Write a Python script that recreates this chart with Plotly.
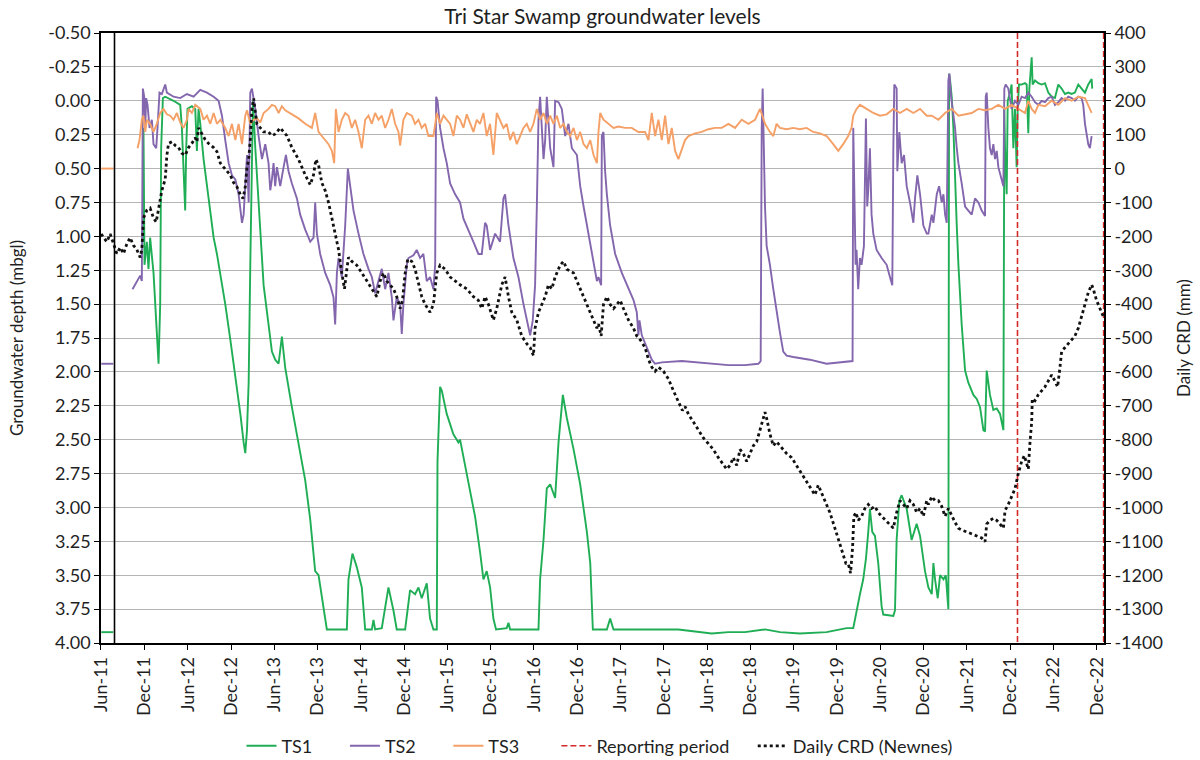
import plotly.graph_objects as go
from datetime import datetime

# ---------------- data (time as decimal year) ----------------
ts1_points = [
    (2011.417, 3.92), (2011.555, 3.92), (None, None),
    (2011.898, 1.04), (2011.905, 0.20), (2011.917, 1.21), (2011.944, 1.04), (2011.963, 1.24),
    (2011.982, 1.01), (2012.021, 1.27), (2012.059, 1.73), (2012.079, 1.94), (2012.098, 1.50),
    (2012.109, 0.35), (2012.129, -0.02), (2012.156, -0.03), (2012.252, 0.00), (2012.329, 0.03),
    (2012.348, 0.20), (2012.367, 0.49), (2012.386, 0.81), (2012.398, 0.35), (2012.413, 0.06),
    (2012.463, 0.04), (2012.502, 0.06), (2012.521, 0.37), (2012.540, 0.06), (2012.560, 0.17),
    (2012.598, 0.43), (2012.656, 0.72), (2012.714, 1.01), (2012.752, 1.13), (2012.791, 1.27),
    (2012.848, 1.50), (2012.906, 1.76), (2012.964, 2.02), (2013.022, 2.31), (2013.060, 2.52),
    (2013.079, 2.60), (2013.099, 2.43), (2013.118, 2.08), (2013.137, 1.21), (2013.156, 0.35),
    (2013.168, 0.00), (2013.195, 0.35), (2013.233, 0.78), (2013.272, 1.21), (2013.291, 1.36),
    (2013.330, 1.56), (2013.387, 1.85), (2013.425, 1.91), (2013.464, 1.94), (2013.502, 1.74),
    (2013.541, 1.97), (2013.618, 2.26), (2013.695, 2.54), (2013.772, 2.80), (2013.830, 3.09),
    (2013.887, 3.47), (2013.926, 3.50), (2013.964, 3.67), (2014.022, 3.90), (2014.253, 3.90),
    (2014.272, 3.53), (2014.318, 3.34), (2014.368, 3.44), (2014.426, 3.59), (2014.465, 3.90),
    (2014.542, 3.90), (2014.561, 3.83), (2014.580, 3.90), (2014.657, 3.89), (2014.734, 3.59),
    (2014.792, 3.76), (2014.830, 3.90), (2014.927, 3.90), (2014.984, 3.61), (2015.042, 3.64),
    (2015.081, 3.59), (2015.119, 3.67), (2015.177, 3.56), (2015.215, 3.82), (2015.254, 3.90),
    (2015.293, 3.90), (2015.301, 2.66), (2015.331, 2.11), (2015.351, 2.14), (2015.408, 2.31),
    (2015.485, 2.46), (2015.543, 2.52), (2015.562, 2.50), (2015.601, 2.63), (2015.678, 2.86),
    (2015.736, 3.07), (2015.793, 3.33), (2015.832, 3.53), (2015.870, 3.47), (2015.909, 3.59),
    (2015.947, 3.82), (2015.978, 3.90), (2016.101, 3.89), (2016.121, 3.85), (2016.140, 3.90),
    (2016.467, 3.90), (2016.486, 3.53), (2016.525, 3.24), (2016.563, 2.86), (2016.602, 2.83),
    (2016.659, 2.93), (2016.698, 2.52), (2016.748, 2.17), (2016.794, 2.34), (2016.871, 2.57),
    (2016.948, 2.83), (2017.025, 3.18), (2017.064, 3.41), (2017.094, 3.90), (2017.256, 3.90),
    (2017.294, 3.82), (2017.333, 3.90), (2017.698, 3.90), (2018.083, 3.90), (2018.468, 3.93),
    (2018.661, 3.92), (2018.853, 3.92), (2019.084, 3.90), (2019.257, 3.92), (2019.488, 3.93),
    (2019.796, 3.92), (2020.027, 3.89), (2020.104, 3.89), (2020.142, 3.76), (2020.181, 3.64),
    (2020.219, 3.53), (2020.250, 3.38), (2020.277, 3.18), (2020.296, 3.01), (2020.323, 3.18),
    (2020.354, 3.21), (2020.392, 3.41), (2020.431, 3.73), (2020.450, 3.79), (2020.566, 3.80),
    (2020.585, 3.76), (2020.604, 3.24), (2020.635, 2.95), (2020.662, 2.91), (2020.720, 3.01),
    (2020.777, 3.24), (2020.835, 3.12), (2020.874, 3.21), (2020.931, 3.47), (2020.970, 3.59),
    (2021.009, 3.64), (2021.028, 3.41), (2021.047, 3.53), (2021.078, 3.67), (2021.105, 3.50),
    (2021.144, 3.53), (2021.171, 3.50), (2021.201, 3.75), (2021.209, -0.20), (2021.221, -0.15),
    (2021.240, -0.03), (2021.259, 0.20), (2021.298, 0.92), (2021.317, 1.21), (2021.355, 1.65),
    (2021.394, 1.99), (2021.432, 2.08), (2021.490, 2.17), (2021.529, 2.20), (2021.567, 2.26),
    (2021.606, 2.43), (2021.625, 2.44), (2021.644, 1.99), (2021.682, 2.17), (2021.721, 2.28),
    (2021.760, 2.27), (2021.798, 2.31), (2021.837, 2.43), (2021.848, 0.06), (2021.856, 0.35),
    (2021.875, 0.69), (2021.887, 0.00), (2021.913, -0.06), (2021.932, -0.12), (2021.952, 0.35),
    (2021.971, 0.06), (2021.990, 0.49), (2022.002, 0.06), (2022.017, -0.12), (2022.048, -0.12),
    (2022.087, -0.13), (2022.106, -0.12), (2022.125, 0.24), (2022.137, -0.09), (2022.164, -0.32),
    (2022.175, -0.12), (2022.202, -0.15), (2022.241, -0.13), (2022.279, -0.12), (2022.318, -0.13),
    (2022.356, -0.06), (2022.395, -0.03), (2022.433, -0.02), (2022.472, -0.12), (2022.510, -0.09),
    (2022.549, -0.05), (2022.587, -0.06), (2022.626, -0.05), (2022.664, -0.06), (2022.703, -0.12),
    (2022.741, -0.09), (2022.780, -0.06), (2022.818, -0.12), (2022.857, -0.16), (2022.864, -0.09),
]

ts2_points = [
    (2011.417, 1.94), (2011.555, 1.94), (None, None),
    (2011.778, 1.39), (2011.828, 1.33), (2011.867, 1.29), (2011.886, 1.33), (2011.898, -0.09),
    (2011.913, -0.03), (2011.925, 0.20), (2011.936, -0.02), (2011.952, 0.03), (2011.975, 0.20),
    (2012.002, 0.14), (2012.021, 0.32), (2012.052, 0.35), (2012.067, 0.20), (2012.090, -0.06),
    (2012.117, -0.05), (2012.156, -0.12), (2012.175, -0.06), (2012.252, -0.03), (2012.329, -0.02),
    (2012.406, -0.05), (2012.483, -0.03), (2012.560, -0.08), (2012.637, -0.06), (2012.714, -0.03),
    (2012.771, 0.00), (2012.810, 0.11), (2012.848, 0.29), (2012.887, 0.46), (2012.925, 0.55),
    (2012.964, 0.58), (2013.002, 0.69), (2013.041, 0.90), (2013.060, 0.84), (2013.079, 0.58),
    (2013.099, 0.40), (2013.118, 0.75), (2013.137, -0.06), (2013.156, -0.09), (2013.195, 0.06),
    (2013.233, 0.26), (2013.272, 0.43), (2013.310, 0.32), (2013.348, 0.46), (2013.368, 0.66),
    (2013.387, 0.58), (2013.406, 0.46), (2013.425, 0.63), (2013.445, 0.49), (2013.483, 0.63),
    (2013.522, 0.49), (2013.549, 0.40), (2013.579, 0.52), (2013.618, 0.61), (2013.676, 0.72),
    (2013.714, 0.84), (2013.772, 0.95), (2013.830, 1.04), (2013.868, 1.01), (2013.887, 0.75),
    (2013.907, 0.98), (2013.945, 1.13), (2014.003, 1.27), (2014.061, 1.36), (2014.099, 1.45),
    (2014.118, 1.65), (2014.138, 1.27), (2014.157, 1.16), (2014.195, 1.30), (2014.234, 0.92),
    (2014.265, 0.50), (2014.291, 0.63), (2014.330, 0.81), (2014.388, 0.98), (2014.445, 1.13),
    (2014.503, 1.24), (2014.542, 1.30), (2014.580, 1.42), (2014.619, 1.33), (2014.657, 1.24),
    (2014.696, 1.39), (2014.734, 1.27), (2014.773, 1.45), (2014.792, 1.62), (2014.830, 1.45),
    (2014.869, 1.50), (2014.888, 1.72), (2014.907, 1.50), (2014.946, 1.21), (2014.965, 1.16),
    (2015.023, 1.14), (2015.061, 1.10), (2015.100, 1.16), (2015.138, 1.13), (2015.177, 1.33),
    (2015.215, 1.30), (2015.254, 1.39), (2015.274, 1.21), (2015.285, -0.03), (2015.301, 0.00),
    (2015.331, 0.20), (2015.370, 0.35), (2015.408, 0.46), (2015.447, 0.61), (2015.505, 0.69),
    (2015.562, 0.75), (2015.601, 0.87), (2015.659, 0.95), (2015.716, 1.04), (2015.774, 1.13),
    (2015.813, 1.13), (2015.851, 0.90), (2015.870, 0.92), (2015.909, 1.10), (2015.967, 0.98),
    (2016.024, 1.04), (2016.063, 0.72), (2016.082, 0.69), (2016.121, 0.92), (2016.178, 1.16),
    (2016.236, 1.30), (2016.294, 1.50), (2016.332, 1.62), (2016.371, 1.73), (2016.401, 1.62),
    (2016.428, 1.36), (2016.448, 0.78), (2016.467, 0.14), (2016.486, -0.03), (2016.525, 0.43),
    (2016.544, 0.29), (2016.563, -0.03), (2016.602, 0.35), (2016.640, 0.49), (2016.659, 0.00),
    (2016.698, 0.01), (2016.736, 0.06), (2016.775, 0.26), (2016.813, 0.17), (2016.852, 0.35),
    (2016.910, 0.40), (2016.948, 0.63), (2016.987, 0.78), (2017.025, 0.92), (2017.064, 1.07),
    (2017.102, 1.21), (2017.141, 1.33), (2017.159, 1.30), (2017.190, 1.36), (2017.198, 0.26),
    (2017.217, 0.23), (2017.236, 0.52), (2017.256, 0.69), (2017.294, 0.92), (2017.352, 1.13),
    (2017.429, 1.27), (2017.506, 1.39), (2017.564, 1.47), (2017.602, 1.56), (2017.621, 1.73),
    (2017.633, 1.62), (2017.660, 1.73), (2017.718, 1.82), (2017.775, 1.91), (2017.814, 1.94),
    (2017.891, 1.93), (2018.122, 1.92), (2018.276, 1.93), (2018.468, 1.94), (2018.661, 1.95),
    (2018.853, 1.95), (2019.007, 1.94), (2019.034, 1.92), (2019.046, 0.20), (2019.057, -0.09),
    (2019.076, 0.49), (2019.084, 0.78), (2019.103, 1.07), (2019.141, 1.21), (2019.180, 1.39),
    (2019.218, 1.56), (2019.238, 1.62), (2019.257, 1.71), (2019.295, 1.85), (2019.334, 1.88),
    (2019.411, 1.89), (2019.603, 1.91), (2019.796, 1.94), (2019.988, 1.93), (2020.096, 1.92),
    (2020.104, 0.20), (2020.115, 0.72), (2020.131, 1.21), (2020.142, 1.10), (2020.161, 1.39),
    (2020.181, 1.16), (2020.200, 1.21), (2020.227, 1.07), (2020.250, 0.13), (2020.265, 0.78),
    (2020.277, 0.66), (2020.296, 0.35), (2020.315, 0.84), (2020.335, 0.98), (2020.373, 1.10),
    (2020.431, 1.16), (2020.489, 1.21), (2020.527, 1.30), (2020.554, 1.36), (2020.566, 0.35),
    (2020.577, -0.12), (2020.604, -0.09), (2020.612, 0.52), (2020.635, 0.23), (2020.662, 0.46),
    (2020.689, 0.40), (2020.720, 0.63), (2020.758, 0.75), (2020.797, 0.90), (2020.816, 0.72),
    (2020.843, 0.55), (2020.874, 0.69), (2020.912, 0.92), (2020.951, 0.98), (2020.970, 0.98),
    (2021.009, 0.84), (2021.028, 0.90), (2021.067, 0.69), (2021.094, 0.63), (2021.124, 0.75),
    (2021.144, 0.69), (2021.163, 0.84), (2021.182, 0.90), (2021.201, -0.15), (2021.213, -0.20),
    (2021.232, -0.03), (2021.259, 0.09), (2021.278, 0.20), (2021.298, 0.35), (2021.317, 0.46),
    (2021.355, 0.61), (2021.375, 0.72), (2021.394, 0.78), (2021.432, 0.81), (2021.471, 0.84),
    (2021.509, 0.72), (2021.548, 0.75), (2021.586, 0.81), (2021.625, 0.85), (2021.633, -0.03),
    (2021.644, -0.06), (2021.663, 0.20), (2021.682, 0.35), (2021.702, 0.40), (2021.721, 0.32),
    (2021.740, 0.43), (2021.760, 0.37), (2021.779, 0.49), (2021.817, 0.58), (2021.837, 0.63),
    (2021.848, -0.09), (2021.863, -0.12), (2021.894, -0.09), (2021.932, 0.06), (2021.971, 0.00),
    (2022.010, 0.03), (2022.048, -0.03), (2022.087, -0.02), (2022.125, -0.06), (2022.164, -0.03),
    (2022.202, 0.01), (2022.241, 0.03), (2022.279, 0.00), (2022.318, 0.01), (2022.356, -0.02),
    (2022.395, -0.03), (2022.433, 0.03), (2022.472, 0.01), (2022.510, -0.02), (2022.549, 0.00),
    (2022.587, -0.03), (2022.626, -0.02), (2022.664, 0.00), (2022.703, -0.03), (2022.741, -0.02),
    (2022.760, 0.03), (2022.780, 0.17), (2022.799, 0.26), (2022.818, 0.32), (2022.837, 0.35),
    (2022.857, 0.26),
]

ts3_points = [
    (2011.417, 0.50), (2011.555, 0.50), (None, None),
    (2011.836, 0.35), (2011.859, 0.29), (2011.886, 0.14), (2011.905, 0.11), (2011.925, 0.23),
    (2011.944, 0.14), (2011.982, 0.17), (2012.021, 0.23), (2012.059, 0.17), (2012.098, 0.09),
    (2012.136, 0.06), (2012.175, 0.10), (2012.213, 0.11), (2012.252, 0.14), (2012.290, 0.09),
    (2012.329, 0.16), (2012.367, 0.20), (2012.406, 0.14), (2012.425, 0.06), (2012.463, 0.09),
    (2012.502, 0.03), (2012.560, 0.06), (2012.598, 0.14), (2012.637, 0.11), (2012.675, 0.17),
    (2012.714, 0.09), (2012.752, 0.17), (2012.791, 0.14), (2012.848, 0.20), (2012.887, 0.26),
    (2012.925, 0.17), (2012.964, 0.29), (2013.002, 0.17), (2013.041, 0.32), (2013.079, 0.11),
    (2013.099, 0.07), (2013.137, 0.17), (2013.176, 0.14), (2013.214, 0.13), (2013.253, 0.16),
    (2013.291, 0.09), (2013.348, 0.06), (2013.387, 0.03), (2013.425, 0.04), (2013.464, 0.09),
    (2013.502, 0.04), (2013.541, 0.07), (2013.618, 0.10), (2013.695, 0.13), (2013.772, 0.17),
    (2013.849, 0.20), (2013.887, 0.09), (2013.926, 0.23), (2013.964, 0.26), (2014.003, 0.29),
    (2014.041, 0.32), (2014.080, 0.37), (2014.107, 0.46), (2014.126, 0.06), (2014.157, 0.23),
    (2014.195, 0.14), (2014.234, 0.09), (2014.272, 0.11), (2014.311, 0.20), (2014.349, 0.14),
    (2014.388, 0.23), (2014.426, 0.35), (2014.465, 0.14), (2014.503, 0.11), (2014.542, 0.17),
    (2014.580, 0.09), (2014.619, 0.14), (2014.657, 0.11), (2014.696, 0.20), (2014.734, 0.14),
    (2014.773, 0.06), (2014.811, 0.17), (2014.850, 0.23), (2014.869, 0.33), (2014.907, 0.14),
    (2014.946, 0.09), (2015.004, 0.11), (2015.042, 0.17), (2015.081, 0.14), (2015.119, 0.20),
    (2015.158, 0.17), (2015.196, 0.26), (2015.254, 0.26), (2015.293, 0.09), (2015.331, 0.17),
    (2015.370, 0.11), (2015.447, 0.17), (2015.485, 0.26), (2015.524, 0.11), (2015.562, 0.14),
    (2015.601, 0.20), (2015.639, 0.10), (2015.678, 0.17), (2015.716, 0.23), (2015.755, 0.14),
    (2015.793, 0.17), (2015.832, 0.09), (2015.870, 0.26), (2015.909, 0.17), (2015.947, 0.40),
    (2015.986, 0.09), (2016.024, 0.14), (2016.063, 0.20), (2016.101, 0.17), (2016.140, 0.29),
    (2016.178, 0.23), (2016.217, 0.32), (2016.255, 0.26), (2016.294, 0.20), (2016.332, 0.17),
    (2016.371, 0.23), (2016.409, 0.17), (2016.448, 0.06), (2016.486, 0.14), (2016.525, 0.09),
    (2016.563, 0.17), (2016.602, 0.11), (2016.640, 0.17), (2016.679, 0.11), (2016.717, 0.20),
    (2016.756, 0.17), (2016.794, 0.23), (2016.833, 0.26), (2016.871, 0.20), (2016.910, 0.29),
    (2016.948, 0.23), (2016.987, 0.32), (2017.025, 0.35), (2017.064, 0.29), (2017.102, 0.40),
    (2017.141, 0.46), (2017.159, 0.23), (2017.179, 0.09), (2017.217, 0.14), (2017.275, 0.17),
    (2017.333, 0.20), (2017.390, 0.19), (2017.467, 0.20), (2017.544, 0.20), (2017.621, 0.23),
    (2017.698, 0.23), (2017.737, 0.29), (2017.775, 0.09), (2017.814, 0.26), (2017.852, 0.14),
    (2017.891, 0.29), (2017.929, 0.11), (2017.968, 0.32), (2018.006, 0.20), (2018.045, 0.37),
    (2018.083, 0.43), (2018.122, 0.35), (2018.160, 0.29), (2018.199, 0.26), (2018.276, 0.24),
    (2018.353, 0.23), (2018.430, 0.21), (2018.507, 0.20), (2018.584, 0.20), (2018.661, 0.17),
    (2018.738, 0.20), (2018.815, 0.14), (2018.892, 0.17), (2018.969, 0.14), (2019.026, 0.06),
    (2019.084, 0.17), (2019.141, 0.23), (2019.180, 0.26), (2019.218, 0.17), (2019.257, 0.20),
    (2019.334, 0.21), (2019.411, 0.20), (2019.488, 0.21), (2019.565, 0.20), (2019.642, 0.23),
    (2019.719, 0.24), (2019.796, 0.26), (2019.873, 0.32), (2019.931, 0.37), (2019.988, 0.32),
    (2020.046, 0.26), (2020.084, 0.20), (2020.104, 0.11), (2020.142, 0.06), (2020.181, 0.03),
    (2020.258, 0.06), (2020.335, 0.09), (2020.412, 0.11), (2020.489, 0.10), (2020.566, 0.06),
    (2020.643, 0.09), (2020.720, 0.06), (2020.797, 0.09), (2020.874, 0.06), (2020.951, 0.11),
    (2021.009, 0.11), (2021.086, 0.14), (2021.163, 0.09), (2021.240, 0.06), (2021.317, 0.11),
    (2021.394, 0.10), (2021.471, 0.09), (2021.548, 0.06), (2021.625, 0.07), (2021.702, 0.06),
    (2021.779, 0.03), (2021.856, 0.06), (2021.932, 0.03), (2022.010, 0.06), (2022.087, 0.09),
    (2022.125, 0.00), (2022.164, 0.06), (2022.202, 0.09), (2022.241, 0.03), (2022.318, 0.04),
    (2022.395, 0.00), (2022.472, 0.03), (2022.549, -0.02), (2022.626, 0.00), (2022.703, -0.03),
    (2022.780, -0.02), (2022.818, 0.03), (2022.857, 0.09),
]

crd_points = [
    (2011.417, -193), (2011.443, -204), (2011.482, -216), (2011.520, -193), (2011.559, -222),
    (2011.597, -251), (2011.636, -233), (2011.674, -251), (2011.713, -222), (2011.751, -204),
    (2011.790, -227), (2011.828, -239), (2011.867, -262), (2011.886, -239), (2011.905, -146),
    (2011.944, -123), (2011.982, -117), (2012.021, -146), (2012.052, -158), (2012.079, -123),
    (2012.117, -65), (2012.156, -31), (2012.175, 39), (2012.194, 74), (2012.233, 79),
    (2012.271, 68), (2012.310, 62), (2012.348, 45), (2012.386, 39), (2012.425, 62),
    (2012.463, 74), (2012.502, 91), (2012.521, 79), (2012.540, 120), (2012.579, 102),
    (2012.617, 85), (2012.656, 74), (2012.714, 62), (2012.752, 50), (2012.791, 16),
    (2012.829, 4), (2012.868, -7), (2012.906, -19), (2012.945, -42), (2012.983, -54),
    (2013.022, -77), (2013.053, -88), (2013.079, -54), (2013.099, 4), (2013.118, 27),
    (2013.137, 85), (2013.156, 178), (2013.176, 207), (2013.195, 166), (2013.214, 131),
    (2013.253, 120), (2013.291, 108), (2013.348, 108), (2013.387, 97), (2013.425, 102),
    (2013.483, 120), (2013.522, 108), (2013.560, 97), (2013.618, 62), (2013.695, 27),
    (2013.772, -19), (2013.830, -48), (2013.868, -19), (2013.895, 27), (2013.926, 10),
    (2013.964, -42), (2014.003, -65), (2014.041, -100), (2014.080, -146), (2014.118, -193),
    (2014.157, -239), (2014.195, -308), (2014.226, -355), (2014.253, -297), (2014.272, -262),
    (2014.311, -274), (2014.368, -285), (2014.426, -308), (2014.484, -332), (2014.542, -355),
    (2014.600, -378), (2014.638, -332), (2014.676, -308), (2014.715, -332), (2014.753, -343),
    (2014.792, -355), (2014.830, -378), (2014.869, -413), (2014.896, -389), (2014.927, -308),
    (2014.957, -268), (2015.004, -274), (2015.042, -297), (2015.081, -343), (2015.119, -378),
    (2015.158, -401), (2015.215, -424), (2015.254, -401), (2015.293, -308), (2015.331, -285),
    (2015.389, -297), (2015.447, -320), (2015.505, -332), (2015.562, -343), (2015.639, -355),
    (2015.716, -378), (2015.774, -389), (2015.813, -413), (2015.851, -378), (2015.890, -401),
    (2015.947, -447), (2015.986, -413), (2016.044, -343), (2016.082, -320), (2016.121, -378),
    (2016.159, -424), (2016.217, -447), (2016.274, -494), (2016.332, -517), (2016.371, -528),
    (2016.409, -552), (2016.428, -471), (2016.467, -424), (2016.505, -401), (2016.544, -378),
    (2016.582, -343), (2016.621, -355), (2016.659, -320), (2016.717, -285), (2016.756, -274),
    (2016.794, -297), (2016.833, -303), (2016.871, -308), (2016.910, -332), (2016.948, -355),
    (2016.987, -378), (2017.025, -401), (2017.064, -424), (2017.102, -447), (2017.141, -471),
    (2017.159, -459), (2017.190, -494), (2017.217, -401), (2017.256, -378), (2017.294, -401),
    (2017.333, -413), (2017.371, -401), (2017.410, -389), (2017.448, -413), (2017.506, -447),
    (2017.564, -471), (2017.602, -494), (2017.641, -505), (2017.698, -528), (2017.737, -563),
    (2017.775, -586), (2017.814, -598), (2017.852, -586), (2017.910, -598), (2017.968, -621),
    (2018.026, -656), (2018.083, -690), (2018.129, -714), (2018.160, -702), (2018.199, -725),
    (2018.257, -748), (2018.314, -772), (2018.372, -795), (2018.430, -812), (2018.487, -829),
    (2018.545, -853), (2018.603, -876), (2018.641, -887), (2018.680, -876), (2018.718, -853),
    (2018.757, -876), (2018.795, -829), (2018.834, -841), (2018.872, -864), (2018.911, -841),
    (2018.949, -818), (2018.988, -806), (2019.026, -772), (2019.065, -731), (2019.084, -719),
    (2019.103, -737), (2019.141, -783), (2019.180, -818), (2019.218, -806), (2019.257, -818),
    (2019.295, -829), (2019.334, -841), (2019.392, -853), (2019.449, -876), (2019.507, -899),
    (2019.565, -922), (2019.623, -945), (2019.661, -963), (2019.700, -934), (2019.738, -957),
    (2019.777, -980), (2019.834, -1015), (2019.892, -1061), (2019.950, -1107), (2019.988, -1142),
    (2020.019, -1165), (2020.046, -1165), (2020.073, -1194), (2020.096, -1119), (2020.111, -1026),
    (2020.135, -1015), (2020.161, -1038), (2020.200, -1026), (2020.238, -1003), (2020.277, -991),
    (2020.315, -1003), (2020.354, -997), (2020.392, -1015), (2020.431, -1026), (2020.481, -1038),
    (2020.527, -1049), (2020.566, -1061), (2020.604, -1015), (2020.643, -980), (2020.681, -991),
    (2020.720, -1003), (2020.758, -980), (2020.797, -991), (2020.835, -1015), (2020.874, -1003),
    (2020.912, -1026), (2020.951, -980), (2020.970, -991), (2021.009, -968), (2021.047, -980),
    (2021.086, -980), (2021.124, -997), (2021.163, -1026), (2021.201, -1003), (2021.240, -1026),
    (2021.278, -1044), (2021.317, -1061), (2021.355, -1067), (2021.413, -1072), (2021.471, -1078),
    (2021.529, -1084), (2021.586, -1090), (2021.625, -1101), (2021.644, -1049), (2021.682, -1038),
    (2021.721, -1032), (2021.760, -1038), (2021.798, -1049), (2021.837, -1061), (2021.856, -1009),
    (2021.894, -991), (2021.932, -968), (2021.971, -945), (2022.010, -899), (2022.048, -864),
    (2022.079, -847), (2022.106, -876), (2022.125, -887), (2022.145, -806), (2022.164, -748),
    (2022.171, -679), (2022.202, -685), (2022.241, -667), (2022.279, -656), (2022.318, -644),
    (2022.356, -627), (2022.395, -609), (2022.433, -627), (2022.464, -644), (2022.491, -586),
    (2022.510, -540), (2022.549, -528), (2022.587, -517), (2022.626, -505), (2022.664, -494),
    (2022.703, -471), (2022.741, -436), (2022.772, -401), (2022.818, -366), (2022.857, -343),
    (2022.876, -355), (2022.914, -389), (2022.953, -413), (2022.991, -436),
]

reporting_period = [2022.0, 2022.996]     # start / end of reporting period (decimal year)
logger_break = 2011.57                    # black vertical divider near start of record
x_range = [2011.414, 2023.0]
depth_ticks = [-0.5 + 0.25 * i for i in range(19)]
crd_ticks = list(range(-1400, 401, 100))
month_ticks = [(y, m) for y in range(2011, 2023) for m in (6, 12)]
month_labels = [("Jun-" if m == 6 else "Dec-") + str(y)[2:] for y, m in month_ticks]


# ---------------- helpers ----------------
def to_date(t):
    if t is None:
        return None
    y = int(t)
    start, end = datetime(y, 1, 1), datetime(y + 1, 1, 1)
    return start + (end - start) * (t - y)


def unzip(points):
    return [to_date(p[0]) for p in points], [p[1] for p in points]


def pad(label, n):
    # trailing non-breaking spaces widen the legend entry (Excel-like spacing)
    return label + "\u00a0" * n


FONT = "Lato, 'Open Sans', sans-serif"
TXT = "#1f1f1f"

fig = go.Figure()

for name, pts, col, n in [("TS1", ts1_points, "#1fae55", 6),
                          ("TS2", ts2_points, "#8366ad", 6),
                          ("TS3", ts3_points, "#f5a066", 7)]:
    xs, ys = unzip(pts)
    fig.add_trace(go.Scatter(x=xs, y=ys, name=pad(name, n), mode="lines",
                             line=dict(color=col, width=1.9), connectgaps=False))

rp0, rp1 = to_date(reporting_period[0]), to_date(reporting_period[1])
fig.add_trace(go.Scatter(x=[rp0, rp0, None, rp1, rp1], y=[-0.5, 4.0, None, -0.5, 4.0],
                         name=pad("Reporting period", 4), mode="lines",
                         line=dict(color="#d42a2a", width=1.6, dash="6px,3px")))

cx, cy = unzip(crd_points)
fig.add_trace(go.Scatter(x=cx, y=cy, name="Daily CRD (Newnes)", mode="lines", yaxis="y2",
                         line=dict(color="#111111", width=2.8, dash="dot")))

fig.add_shape(type="line", xref="x", yref="paper", x0=to_date(logger_break),
              x1=to_date(logger_break), y0=0, y1=1, line=dict(color="black", width=1.6))

fig.update_layout(
    width=1200, height=760,
    margin=dict(l=101, r=96, t=33, b=117, autoexpand=False),
    paper_bgcolor="white", plot_bgcolor="white",
    font=dict(family=FONT, size=18, color=TXT),
    title=dict(text="Tri Star Swamp groundwater levels", x=0.5, xref="paper",
               y=0.978, yanchor="middle", font=dict(size=21, color=TXT)),
    showlegend=True,
    legend=dict(orientation="h", x=0.497, xanchor="center", y=-0.169, yanchor="middle",
                font=dict(size=18, color=TXT), tracegroupgap=0),
    xaxis=dict(type="date", range=[to_date(x_range[0]), to_date(x_range[1])],
               tickvals=[datetime(y, m, 1) for y, m in month_ticks], ticktext=month_labels,
               tickangle=-90, ticks="outside", ticklen=5, tickcolor="black",
               showgrid=False, zeroline=False, showline=True, mirror=True,
               linecolor="black", linewidth=1.6, tickfont=dict(size=18, color=TXT)),
    yaxis=dict(range=[4.0, -0.5], tickvals=depth_ticks,
               ticktext=["%.2f" % v for v in depth_ticks],
               ticks="outside", ticklen=5, tickcolor="black",
               showgrid=True, gridcolor="#b5b5b5", gridwidth=1, zeroline=False,
               showline=True, mirror=True, linecolor="black", linewidth=1.6,
               title=dict(text="Groundwater depth (mbgl)", font=dict(size=17, color=TXT), standoff=20),
               tickfont=dict(size=18, color=TXT)),
    yaxis2=dict(range=[-1400, 400], tickvals=crd_ticks, ticktext=[str(v) for v in crd_ticks],
                overlaying="y", side="right", showgrid=False, zeroline=False,
                ticks="outside", ticklen=5, tickcolor="black",
                showline=True, linecolor="black", linewidth=1.6,
                title=dict(text="Daily CRD (mm)", font=dict(size=17, color=TXT), standoff=16),
                tickfont=dict(size=18, color=TXT)),
)

fig.write_html("out.html")
